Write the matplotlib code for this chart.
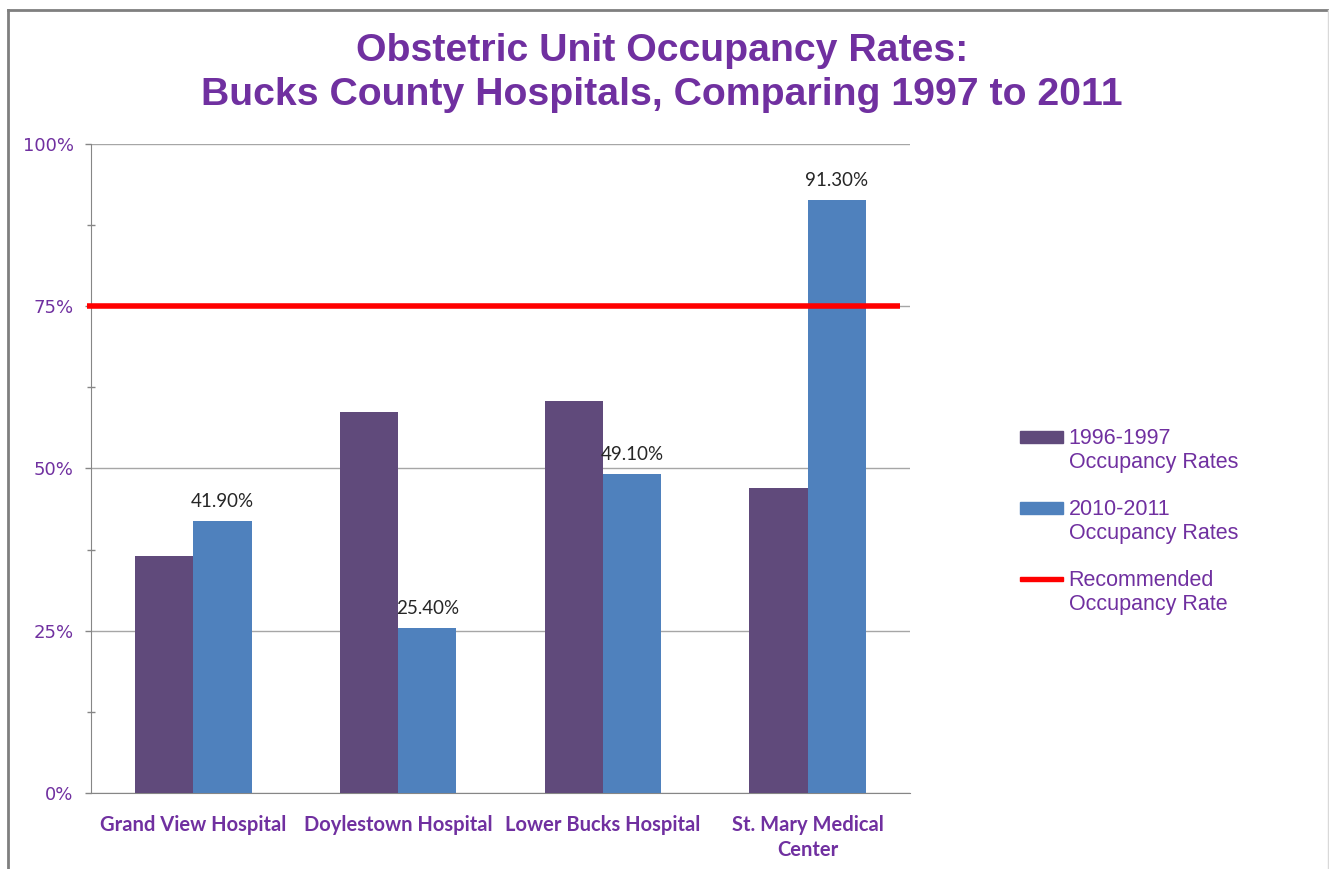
import numpy as np
import matplotlib.pyplot as plt
from matplotlib.patches import Rectangle, Patch
from matplotlib.lines import Line2D
from matplotlib.legend_handler import HandlerPatch
from matplotlib.ticker import MultipleLocator, FuncFormatter

hospitals = ["Grand View Hospital", "Doylestown Hospital", "Lower Bucks Hospital",
             "St. Mary Medical\nCenter"]
rates_1997 = [36.5, 58.7, 60.4, 47.0]
rates_2011 = [41.9, 25.4, 49.1, 91.3]
recommended = 75

purple_dark = "#604A7B"
blue = "#4F81BD"
text_purple = "#7030A0"
grid_gray = "#A6A6A6"
axis_gray = "#868686"

fig = plt.figure(figsize=(13.29, 8.69), dpi=100)
ax = fig.add_axes([0.0685, 0.0875, 0.6162, 0.7468])

x = np.arange(len(hospitals))
w = 0.285
ax.bar(x - w / 2, rates_1997, w, color=purple_dark, zorder=3)
bars = ax.bar(x + w / 2, rates_2011, w, color=blue, zorder=3)
for b, v in zip(bars, rates_2011):
    ax.text(b.get_x() + b.get_width() / 2, v + 1.7, "%.2f%%" % v, ha="center",
            va="bottom", fontsize=13.5, color="#262626", family="Lato")

ax.hlines(recommended, -0.52, 3.45, color="#FF0000", lw=4, zorder=4, clip_on=False)

ax.set_xlim(-0.5, 3.5)
ax.set_ylim(0, 100)
ax.yaxis.set_major_locator(MultipleLocator(25))
ax.yaxis.set_minor_locator(MultipleLocator(12.5))
ax.yaxis.set_major_formatter(FuncFormatter(lambda v, p: "%d%%" % v))
ax.grid(axis="y", which="major", color=grid_gray, lw=1, zorder=0)
ax.tick_params(axis="y", which="major", length=4.5, width=1, color=axis_gray,
               labelsize=13, labelcolor=text_purple, pad=8,
               labelfontfamily="DejaVu Sans")
ax.tick_params(axis="y", which="minor", length=6, width=1, color=axis_gray,
               direction="inout")
ax.set_xticks(x)
ax.set_xticklabels(hospitals, fontsize=14.5, fontweight="bold", color=text_purple,
                   family="Lato", linespacing=1.3)
ax.tick_params(axis="x", length=0, pad=16)
for s in ["top", "right"]:
    ax.spines[s].set_visible(False)
for s in ["left", "bottom"]:
    ax.spines[s].set_color(axis_gray)

fig.text(0.498, 0.916, "Obstetric Unit Occupancy Rates:\nBucks County Hospitals, Comparing 1997 to 2011",
         ha="center", va="center", fontsize=28.3, fontweight="bold", color=text_purple,
         family="Liberation Sans", linespacing=1.3)


def top_rect(legend, orig_handle, xdescent, ydescent, width, height, fontsize):
    # legend key sits beside the first line of the two-line label
    h = 0.55 * fontsize if orig_handle.get_label() != "line" else 0.2 * fontsize
    return Rectangle((-xdescent, -ydescent + height - 0.08 * fontsize - h / 2), width, h)


handles = [Patch(color=purple_dark), Patch(color=blue),
           Patch(color="#FF0000", label="line")]
labels = ["1996-1997\nOccupancy Rates", "2010-2011\nOccupancy Rates",
          "Recommended\nOccupancy Rate"]
leg = fig.legend(handles, labels, loc="center left", bbox_to_anchor=(0.753, 0.4),
                 frameon=False, labelspacing=1.2, handlelength=2.0,
                 handleheight=2.0, handletextpad=0.25,
                 handler_map={Patch: HandlerPatch(patch_func=top_rect)},
                 prop={"family": "Liberation Sans", "size": 15.5})
for t in leg.get_texts():
    t.set_color(text_purple)

# outer chart frame
fig.add_artist(Line2D([8 / 1329, 8 / 1329], [0, 1 - 10 / 869], color="#7F7F7F", lw=2,
                      transform=fig.transFigure))
fig.add_artist(Line2D([8 / 1329, 1], [1 - 10 / 869, 1 - 10 / 869], color="#7F7F7F", lw=2,
                      transform=fig.transFigure))
fig.add_artist(Line2D([1327.5 / 1329, 1327.5 / 1329], [0, 1 - 10 / 869], color="#D9D9D9",
                      lw=1, transform=fig.transFigure))

fig.savefig("out.png", dpi=100)
